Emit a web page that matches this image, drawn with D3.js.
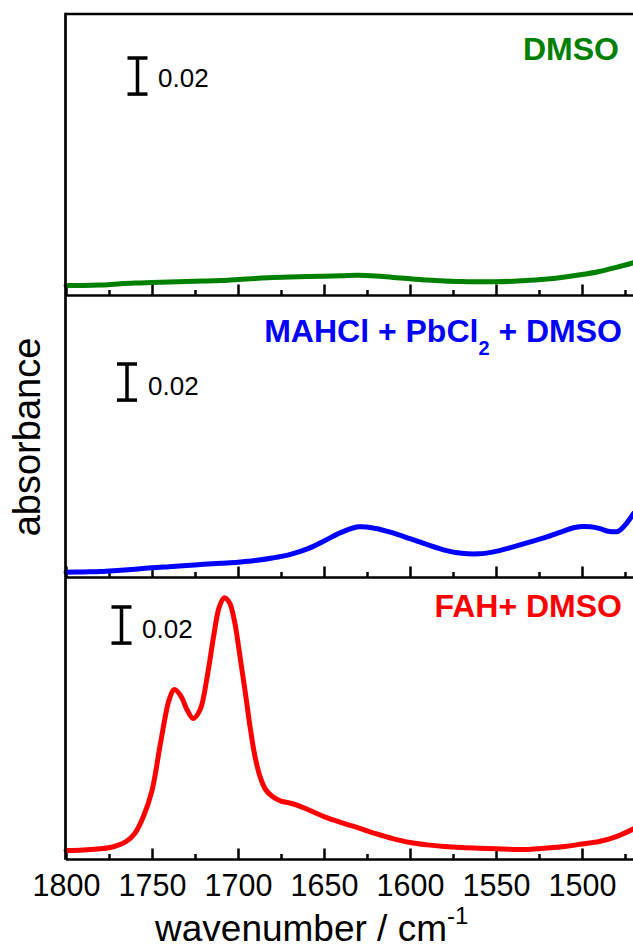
<!DOCTYPE html>
<html>
<head>
<meta charset="utf-8">
<script src="https://cdn.jsdelivr.net/npm/d3@7"></script>
<style>
  html, body { margin: 0; padding: 0; background: #fff; overflow: hidden; }
  svg { display: block; font-family: "Liberation Sans", Arial, sans-serif; }
</style>
</head>
<body>
<svg id="chart" width="633" height="951"></svg>
<script>
// FTIR absorbance spectra, 1800–1470 cm-1, three stacked panels

// Axis ticks (wavenumber, cm-1)
const majorTicks = [1800, 1750, 1700, 1650, 1600, 1550, 1500];
const minorTicks = [1775, 1725, 1675, 1625, 1575, 1525, 1475];

// DMSO
const dmsoWn  = [1800, 1790, 1780, 1770, 1760, 1750, 1740, 1730, 1720, 1710, 1700, 1690, 1680, 1670, 1660, 1650, 1640, 1630, 1620, 1610, 1600, 1590, 1580, 1570, 1560, 1550, 1540, 1530, 1520, 1510, 1500, 1490, 1480, 1470];
const dmsoAbs = [0.0055, 0.0055, 0.0058, 0.0064, 0.0069, 0.0072, 0.0075, 0.0078, 0.0080, 0.0083, 0.0089, 0.0094, 0.0100, 0.0102, 0.0105, 0.0107, 0.0109, 0.0112, 0.0108, 0.0100, 0.0093, 0.0086, 0.0081, 0.0078, 0.0076, 0.0076, 0.0079, 0.0084, 0.0091, 0.0102, 0.0116, 0.0133, 0.0156, 0.0182];

// MAHCl + PbCl2 + DMSO
const mahclWn  = [1800, 1790, 1780, 1770, 1760, 1750, 1740, 1730, 1720, 1710, 1700, 1690, 1680, 1670, 1660, 1650, 1640, 1630, 1620, 1610, 1600, 1590, 1580, 1570, 1560, 1550, 1540, 1530, 1520, 1510, 1505, 1500, 1495, 1490, 1484, 1479, 1475, 1470];
const mahclAbs = [0.0029, 0.0031, 0.0033, 0.0039, 0.0046, 0.0054, 0.0060, 0.0066, 0.0073, 0.0079, 0.0085, 0.0094, 0.0108, 0.0127, 0.0157, 0.0202, 0.0250, 0.0281, 0.0272, 0.0247, 0.0215, 0.0182, 0.0152, 0.0134, 0.0131, 0.0145, 0.0170, 0.0197, 0.0226, 0.0260, 0.0276, 0.0283, 0.0281, 0.0272, 0.0255, 0.0256, 0.0290, 0.0355];

// FAH + DMSO
const fahWn  = [1800, 1790, 1780, 1775, 1770, 1765, 1760, 1755, 1750, 1745, 1740, 1737, 1733, 1730, 1726, 1722, 1718, 1714, 1711, 1708, 1705, 1702, 1699, 1696, 1693, 1690, 1687, 1684, 1680, 1675, 1670, 1665, 1660, 1650, 1640, 1630, 1620, 1610, 1600, 1590, 1580, 1570, 1560, 1550, 1540, 1535, 1525, 1510, 1500, 1490, 1480, 1470];
const fahAbs = [0.0050, 0.0053, 0.0060, 0.0065, 0.0078, 0.0100, 0.0144, 0.0238, 0.0382, 0.0648, 0.0886, 0.0942, 0.0903, 0.0837, 0.0781, 0.0831, 0.1008, 0.1247, 0.1396, 0.1451, 0.1424, 0.1319, 0.1136, 0.0942, 0.0737, 0.0565, 0.0454, 0.0388, 0.0349, 0.0324, 0.0313, 0.0299, 0.0280, 0.0238, 0.0205, 0.0175, 0.0144, 0.0116, 0.0094, 0.0081, 0.0072, 0.0066, 0.0062, 0.0059, 0.0056, 0.0055, 0.0060, 0.0072, 0.0086, 0.0100, 0.0127, 0.0170];

const scaleBarValue = 0.02;

const svg = d3.select("#chart");
const left = 66, right = 633.6;
const panelH = 281.5;

const x = d3.scaleLinear().domain([1800, 1470]).range([left, right]);

const panels = [
  { top: 14,  wn: dmsoWn,  abs: dmsoAbs,  color: "#008000",
    bar: { cx: 137.5, top: 58,  lx: 158, lb: 87 },
    label: { x: 619, y: 60 } },
  { top: 296, wn: mahclWn, abs: mahclAbs, color: "#0000ff",
    bar: { cx: 127,   top: 364, lx: 148, lb: 395 },
    label: { x: 622, y: 342 } },
  { top: 578, wn: fahWn,   abs: fahAbs,   color: "#ff0000",
    bar: { cx: 121.5, top: 607, lx: 142, lb: 638 },
    label: { x: 622, y: 617 } }
];

panels.forEach((p, i) => {
  const bottom = p.top + panelH;
  const y = d3.scaleLinear().domain([0, 0.156]).range([bottom, p.top]);
  const g = svg.append("g");

  // bottom axis ticks, pointing into the panel
  const minorAxis = d3.axisBottom(x).tickValues(minorTicks).tickSize(-5.5).tickFormat("");
  const majorAxis = d3.axisBottom(x).tickValues(majorTicks).tickSize(-11).tickPadding(15)
    .tickFormat(i === 2 ? d3.format("d") : "");

  const gMinor = g.append("g").attr("transform", `translate(0,${bottom})`).call(minorAxis);
  const gMajor = g.append("g").attr("transform", `translate(0,${bottom})`).call(majorAxis);
  [gMinor, gMajor].forEach(a => {
    a.select(".domain").remove();
    a.selectAll(".tick line").attr("stroke", "#000").attr("stroke-width", 2.5);
  });
  gMajor.selectAll(".tick text")
    .attr("font-size", 30.5)
    .attr("fill", "#000")
    .attr("font-family", "'Liberation Sans', Arial, sans-serif");

  // panel bottom line
  g.append("line")
    .attr("x1", left).attr("x2", 640)
    .attr("y1", bottom).attr("y2", bottom)
    .attr("stroke", "#000").attr("stroke-width", 2.7);

  // spectrum
  const pts = p.wn.map((w, k) => [w, p.abs[k]]);
  const line = d3.line().x(d => x(d[0])).y(d => y(d[1])).curve(d3.curveCatmullRom.alpha(0.5));
  g.append("path")
    .datum(pts)
    .attr("d", line)
    .attr("fill", "none")
    .attr("stroke", p.color)
    .attr("stroke-width", 5)
    .attr("stroke-linejoin", "round")
    .attr("stroke-linecap", "round");

  // absorbance scale bar
  const barLen = y(0) - y(scaleBarValue);
  const bg = g.append("g").attr("stroke", "#000");
  bg.append("line").attr("x1", p.bar.cx).attr("x2", p.bar.cx)
    .attr("y1", p.bar.top).attr("y2", p.bar.top + barLen).attr("stroke-width", 3.5);
  [p.bar.top, p.bar.top + barLen].forEach(yy => {
    bg.append("line").attr("x1", p.bar.cx - 10).attr("x2", p.bar.cx + 10)
      .attr("y1", yy).attr("y2", yy).attr("stroke-width", 3.5);
  });
  g.append("text")
    .attr("x", p.bar.lx).attr("y", p.bar.lb)
    .attr("font-size", 26).attr("fill", "#000")
    .text(scaleBarValue.toFixed(2));
});

// top border and left axis line
svg.append("line").attr("x1", left).attr("x2", 640).attr("y1", 14).attr("y2", 14)
  .attr("stroke", "#000").attr("stroke-width", 2.7);
svg.append("line").attr("x1", left - 0.5).attr("x2", left - 0.5).attr("y1", 12.7).attr("y2", 14 + 3 * panelH + 1.3)
  .attr("stroke", "#000").attr("stroke-width", 2.7);

// sample labels
const bold = { "font-size": 32, "font-weight": "bold", "text-anchor": "end" };
function applyAttrs(sel, o) { Object.entries(o).forEach(([k, v]) => sel.attr(k, v)); return sel; }

applyAttrs(svg.append("text"), bold)
  .attr("x", panels[0].label.x).attr("y", panels[0].label.y)
  .attr("fill", "#008000").text("DMSO");

const t2 = applyAttrs(svg.append("text"), bold)
  .attr("x", panels[1].label.x).attr("y", panels[1].label.y)
  .attr("fill", "#0000ff");
t2.append("tspan").text("MAHCl + PbCl");
t2.append("tspan").attr("font-size", 20).attr("dy", 13).text("2");
t2.append("tspan").attr("dy", -13).text(" + DMSO");

applyAttrs(svg.append("text"), bold)
  .attr("x", panels[2].label.x).attr("y", panels[2].label.y)
  .attr("fill", "#ff0000").text("FAH+ DMSO");

// axis titles
const xt = svg.append("text")
  .attr("x", 155).attr("y", 941)
  .attr("font-size", 37).attr("fill", "#000");
xt.append("tspan").text("wavenumber / cm");
xt.append("tspan").attr("font-size", 24).attr("dy", -17).text("-1");

svg.append("text")
  .attr("transform", "translate(40,437) rotate(-90)")
  .attr("text-anchor", "middle")
  .attr("font-size", 38).attr("fill", "#000")
  .text("absorbance");
</script>
</body>
</html>
